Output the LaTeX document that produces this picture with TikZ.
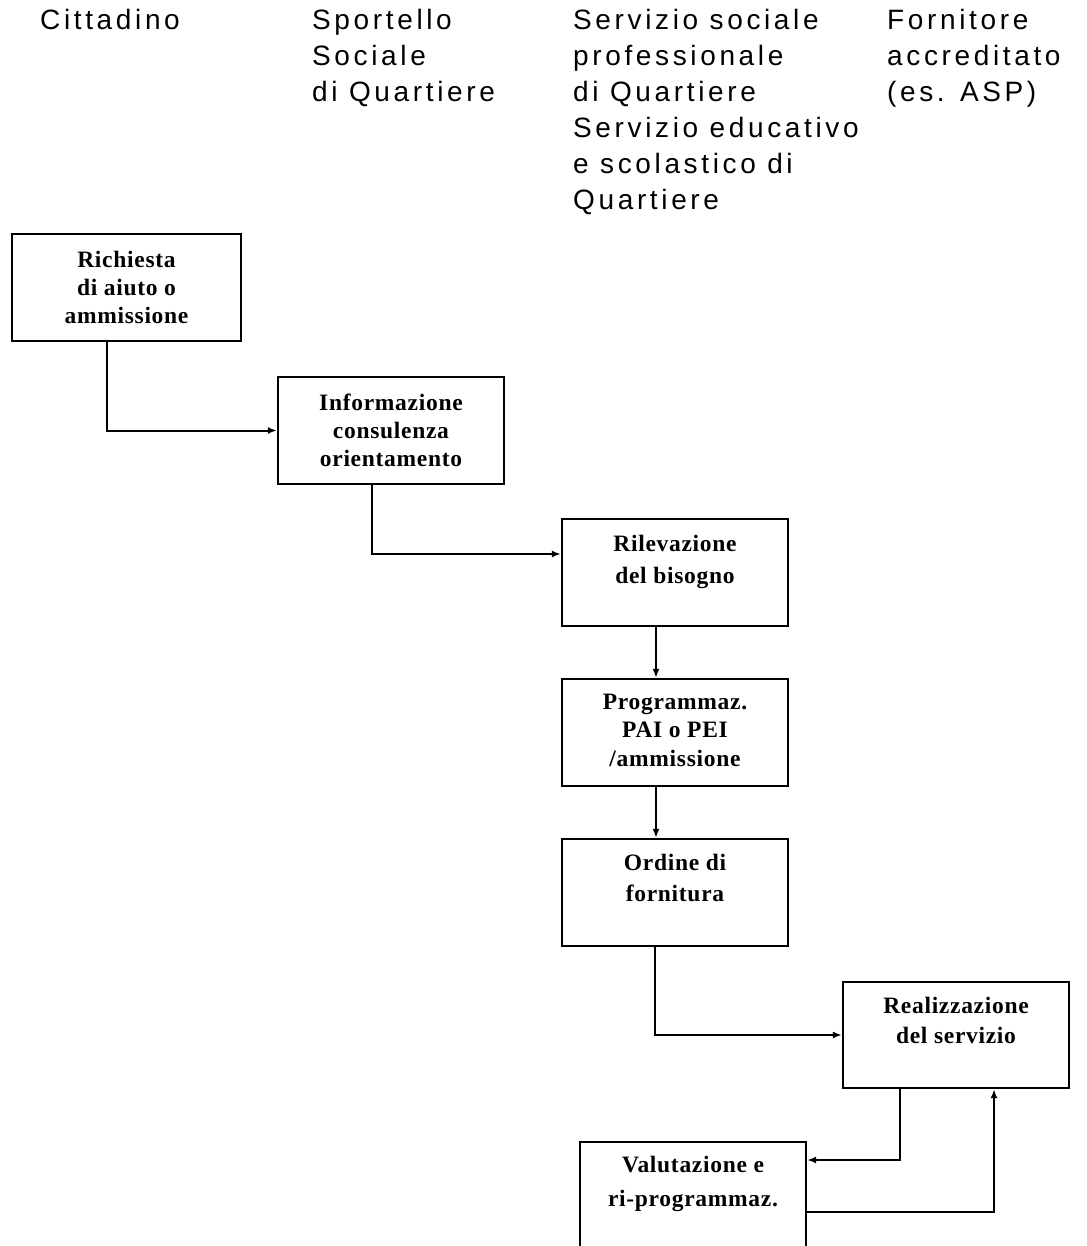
\documentclass[tikz,border=0pt]{standalone}
\usepackage{fontspec}
\usetikzlibrary{arrows.meta}
\newfontfamily\hdrfont[LetterSpace=13]{Liberation Sans}
\newfontfamily\boxfont[LetterSpace=3]{Liberation Serif}
\begin{document}
\begin{tikzpicture}[x=1pt,y=-1pt,
  box/.style={draw,line width=2.3pt,minimum width=226pt,minimum height=107pt,inner sep=0pt},
  boxtext/.style={anchor=north,inner sep=0pt,align=center,font=\boxfont\bfseries\fontsize{23.5}{28}\selectfont},
  hdr/.style={anchor=north west,inner sep=0pt,align=left,font=\hdrfont\fontsize{28}{36}\selectfont},
  arr/.style={line width=2pt,-{Latex[length=9pt,width=7pt]}}]
\useasboundingbox (0,0) rectangle (1086,1246);
% headers
\node[hdr] (h1) at (40,9) {Cittadino};
\node[hdr] (h2) at (312,9) {Sportello\\Sociale\\di Quartiere};
\node[hdr] (h3) at (573,9) {Servizio sociale\\professionale\\di Quartiere\\Servizio educativo\\e scolastico di\\Quartiere};
\node[hdr] (h4) at (887,9) {Fornitore\\accreditato\\(es. ASP)};
% boxes
\node[box,minimum width=229pt] (ric) at (126.5,287.5) {};
\node[box] (inf) at (391,430.5) {};
\node[box] (ril) at (675,572.5) {};
\node[box] (prog) at (675,732.5) {};
\node[box] (ord) at (675,892.5) {};
\node[box,minimum height=106pt] (real) at (956,1035) {};
\node[box] (val) at (693,1195.5) {};
% texts
\node[boxtext] (tric) at ([yshift=-18pt]ric.north) {Richiesta\\di aiuto o\\ammissione};
\node[boxtext] (tinf) at ([yshift=-18pt]inf.north) {Informazione\\consulenza\\orientamento};
\node[boxtext,font=\boxfont\bfseries\fontsize{23.5}{32}\selectfont] (tril) at ([yshift=-17pt]ril.north) {Rilevazione\\del bisogno};
\node[boxtext,font=\boxfont\bfseries\fontsize{23.5}{28.5}\selectfont] (tprog) at ([yshift=-16pt]prog.north) {Programmaz.\\PAI o PEI\\/ammissione};
\node[boxtext,font=\boxfont\bfseries\fontsize{23.5}{31}\selectfont] (tord) at ([yshift=-16pt]ord.north) {Ordine di\\fornitura};
\node[boxtext,font=\boxfont\bfseries\fontsize{23.5}{30}\selectfont] (treal) at ([yshift=-16pt]real.north) {Realizzazione\\del servizio};
\node[boxtext,font=\boxfont\bfseries\fontsize{23.5}{34}\selectfont] (tval) at ([yshift=-15pt]val.north) {Valutazione e\\ri-programmaz.};
% connectors
\draw[arr] ([xshift=-19.5pt]ric.south) |- (inf.west);
\draw[arr] ([xshift=-19pt]inf.south) |- ([yshift=18.5pt]ril.west);
\draw[arr] ([xshift=-19pt]ril.south) -- ([xshift=-19pt]prog.north);
\draw[arr] ([xshift=-19pt]prog.south) -- ([xshift=-19pt]ord.north);
\draw[arr] ([xshift=-20pt]ord.south) |- (real.west);
\draw[arr] ([xshift=-56pt]real.south) |- ([yshift=35.5pt]val.east);
\draw[arr] ([yshift=-16.5pt]val.east) -| ([xshift=38pt]real.south);
\end{tikzpicture}
\end{document}
